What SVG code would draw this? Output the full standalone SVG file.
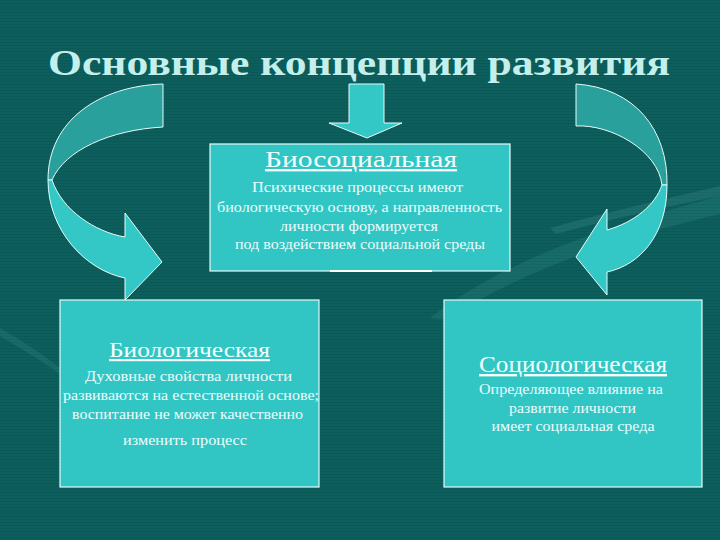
<svg xmlns="http://www.w3.org/2000/svg" width="720" height="540" viewBox="0 0 720 540">
<defs>
<style>
.bg{fill:#0c5f5d}
.box{fill:#31c6c4;stroke:#e6fbfa;stroke-width:1.2}
.front{fill:#33c8c5;stroke:#e6fbfa;stroke-width:1}
.back{fill:#2aa09c;stroke:#e6fbfa;stroke-width:1}
.title{font-family:"Liberation Serif","DejaVu Serif",serif;font-size:36px;font-weight:bold;fill:#c4efeb}
.head{font-family:"Liberation Serif","DejaVu Serif",serif;fill:#f4ffff;text-decoration:underline;text-anchor:middle}
.body{font-family:"Liberation Serif","DejaVu Serif",serif;font-size:15px;fill:#eefcfc;text-anchor:middle}
</style>
<pattern id="stripes" width="8" height="3" patternUnits="userSpaceOnUse"><rect width="8" height="1" fill="#000000" opacity="0.07"/></pattern>
</defs>
<rect class="bg" x="0" y="0" width="720" height="540"/>
<rect x="0" y="0" width="720" height="540" fill="url(#stripes)"/>
<g id="background-swoosh" fill="#6fc4bf">
<path d="M430,318 C500,262 600,228 720,196 L720,214 C610,240 520,272 446,320 Z" opacity="0.12"/>
<path d="M550,228 C600,214 660,200 720,186 L720,196 C660,208 600,222 556,234 Z" opacity="0.15"/>
<path d="M0,328 C20,340 40,352 60,368 L60,374 C40,360 20,348 0,336 Z" opacity="0.12"/>
</g>
<g id="title">
<text class="title" x="48" y="75" textLength="622" lengthAdjust="spacingAndGlyphs">Основные концепции развития</text>
</g>
<g id="connectors">
<path id="arrow-center" class="front" d="M349,84 L384,84 L384,123 L402,123 L367,138 L329,123 L349,123 Z"/>
<g id="arrow-left">
<path class="back" d="M163,84 C100,86 48,120 48,180 L52,180 C65,150 110,130 163,127 Z"/>
<path class="front" d="M48,180 C48,230 85,270 125,278 L125,300 L162,262 L125,213 L125,237 C95,232 62,210 52,180 Z"/>
</g>
<g id="arrow-right">
<path class="back" d="M576,84 C635,88 668,130 667,185 L662,185 C658,150 610,124 576,126 Z"/>
<path class="front" d="M667,185 C667,235 640,265 607,272 L607,295 L576,257 L607,209 L607,230 C635,222 655,205 662,185 Z"/>
</g>
</g>
<g id="node-biosocial">
<rect class="box" x="210" y="144" width="300" height="127"/>
<line x1="330" y1="271" x2="432" y2="271" stroke="#ffffff" stroke-width="2"/>
<text class="head" x="361" y="167" font-size="24" textLength="192" lengthAdjust="spacingAndGlyphs">Биосоциальная</text>
<text class="body" x="357.5" y="192" textLength="211" lengthAdjust="spacingAndGlyphs">Психические процессы имеют</text>
<text class="body" x="359.5" y="212" textLength="285" lengthAdjust="spacingAndGlyphs">биологическую основу, а направленность</text>
<text class="body" x="359" y="231" textLength="158" lengthAdjust="spacingAndGlyphs">личности формируется</text>
<text class="body" x="360" y="249" textLength="250" lengthAdjust="spacingAndGlyphs">под воздействием социальной среды</text>
</g>
<g id="node-biological">
<rect class="box" x="60" y="300" width="259" height="187"/>
<text class="head" x="189.5" y="357" font-size="22" textLength="161" lengthAdjust="spacingAndGlyphs">Биологическая</text>
<text class="body" x="188.5" y="381" textLength="207" lengthAdjust="spacingAndGlyphs">Духовные свойства  личности</text>
<text class="body" x="191" y="400" textLength="256" lengthAdjust="spacingAndGlyphs">развиваются на естественной основе;</text>
<text class="body" x="187.5" y="419" textLength="231" lengthAdjust="spacingAndGlyphs">воспитание не может качественно</text>
<text class="body" x="185" y="445" textLength="124" lengthAdjust="spacingAndGlyphs">изменить процесс</text>
</g>
<g id="node-sociological">
<rect class="box" x="444" y="300" width="258" height="187"/>
<text class="head" x="573" y="372" font-size="24" textLength="188" lengthAdjust="spacingAndGlyphs">Социологическая</text>
<text class="body" x="571" y="394" textLength="184" lengthAdjust="spacingAndGlyphs">Определяющее влияние на</text>
<text class="body" x="572.5" y="413" textLength="127" lengthAdjust="spacingAndGlyphs">развитие личности</text>
<text class="body" x="573" y="431" textLength="163" lengthAdjust="spacingAndGlyphs">имеет социальная среда</text>
</g>
</svg>
